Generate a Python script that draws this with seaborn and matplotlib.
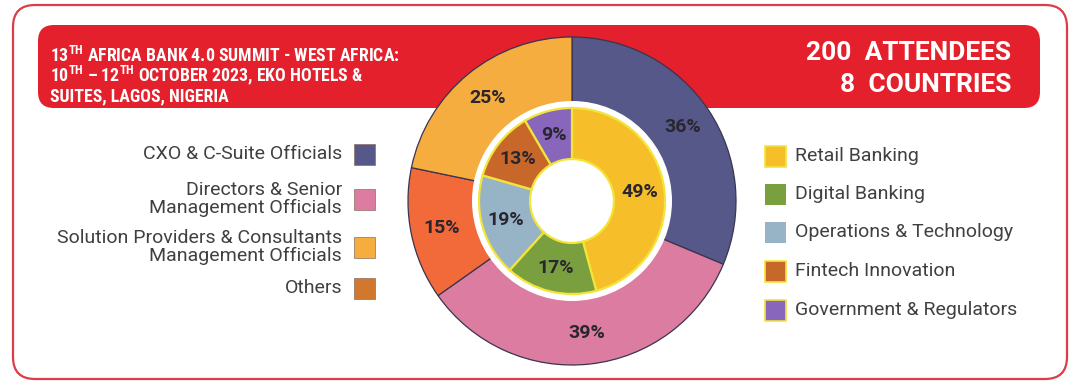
import matplotlib
matplotlib.use("Agg")
import matplotlib.pyplot as plt
import seaborn as sns
from matplotlib.patches import FancyBboxPatch, Rectangle, Circle
from matplotlib import font_manager

# ---------------- data ----------------
outer_labels = ["CXO & C-Suite Officials",
                "Directors & Senior\nManagement Officials",
                "Others",
                "Solution Providers & Consultants\nManagement Officials"]
outer_values = [36, 39, 15, 25]
outer_colors = ["#555888", "#dc7ca0", "#f26a3a", "#f6ad40"]

legend_left_labels = ["CXO & C-Suite Officials",
                      "Directors & Senior\nManagement Officials",
                      "Solution Providers & Consultants\nManagement Officials",
                      "Others"]
legend_left_colors = ["#555888", "#dc7ca0", "#f6ad40", "#d2782e"]

inner_labels = ["Retail Banking", "Digital Banking", "Operations & Technology",
                "Fintech Innovation", "Government & Regulators"]
inner_values = [49, 17, 19, 13, 9]
inner_colors = ["#f6bf2a", "#7a9f3f", "#97b3c6", "#c7672a", "#8866bb"]

title_lines = [r"13$^{\mathbf{TH}}$ AFRICA BANK 4.0 SUMMIT - WEST AFRICA:",
               r"10$^{\mathbf{TH}}$ – 12$^{\mathbf{TH}}$ OCTOBER 2023, EKO HOTELS &",
               "SUITES, LAGOS, NIGERIA"]
stats_lines = ["200  ATTENDEES", "8  COUNTRIES"]

# ---------------- style ----------------
sns.set_theme(style="white")
avail = {f.name for f in font_manager.fontManager.ttflist}
def pick(cands):
    for c in cands:
        if c in avail:
            return c
    return "DejaVu Sans"
head_font = pick(["Roboto Condensed", "Liberation Sans Narrow", "Roboto"])
body_font = pick(["Roboto", "Open Sans", "DejaVu Sans"])
plt.rcParams["font.family"] = [body_font, "DejaVu Sans"]
plt.rcParams["mathtext.fontset"] = "custom"
plt.rcParams["mathtext.bf"] = f"{head_font}:bold"
plt.rcParams["mathtext.rm"] = f"{head_font}:bold"

RED = "#e3202b"
TXT = "#404040"
fig = plt.figure(figsize=(10.8, 3.9), dpi=100)
ax = fig.add_axes([0, 0, 1, 1])

H = 390
def Y(y):  # image y (top-down) -> axes y (bottom-up)
    return H - y

# outer frame
ax.add_patch(FancyBboxPatch((13, Y(379)), 1054, 374,
                            boxstyle="round,pad=0,rounding_size=22",
                            fc="white", ec="#dd3d48", lw=1.6, zorder=0))
# banner
ax.add_patch(FancyBboxPatch((38, Y(108)), 1002, 83,
                            boxstyle="round,pad=0,rounding_size=16",
                            fc=RED, ec="none", zorder=1))

for txt, yb in zip(title_lines, [62, 81.5, 101]):
    ax.text(50, Y(yb), txt, color="white", fontsize=12.8, fontweight="bold",
            family=[head_font, "DejaVu Sans"], ha="left", va="baseline", zorder=2)
for txt, yb in zip(stats_lines, [60, 92]):
    ax.text(1011, Y(yb), txt, color="white", fontsize=19, fontweight="bold",
            family=[body_font, "DejaVu Sans"], ha="right", va="baseline", zorder=2)

# ---------------- pies ----------------
cx, cy = 572, Y(201)
R_out = 164
wedges, texts = ax.pie(outer_values, colors=outer_colors, startangle=90,
                       counterclock=False, center=(cx, cy), radius=R_out,
                       labels=[f"{v}%" for v in outer_values], labeldistance=0.81,
                       wedgeprops=dict(edgecolor="#3a3450", linewidth=0.9),
                       textprops=dict(ha="center", va="center", fontsize=14,
                                      fontweight="bold", color="#2a2630"),
                       frame=False)
for w in wedges:
    w.set_zorder(3)
for t in texts:
    t.set_zorder(6)
ax.add_patch(Circle((cx, cy), 100, fc="white", ec="none", zorder=4))

R_in = 93
w2, t2 = ax.pie(inner_values, colors=inner_colors, startangle=90,
                counterclock=False, center=(cx, cy), radius=R_in,
                labels=[f"{v}%" for v in inner_values], labeldistance=0.74,
                wedgeprops=dict(width=R_in - 42, edgecolor="#f3e43a", linewidth=1.6),
                textprops=dict(ha="center", va="center", fontsize=14,
                               fontweight="bold", color="#2a2630"),
                frame=False)
for w in w2:
    w.set_zorder(5)
for t in t2:
    t.set_zorder(6)

# ---------------- legends ----------------
left_rows = [154, 199, 247, 288]
for lab, col, yc in zip(legend_left_labels, legend_left_colors, left_rows):
    ax.add_patch(Rectangle((354, Y(yc) - 10.5), 21, 21, fc=col, ec="#8a7060",
                           lw=0.5, zorder=2))
    ax.text(342, Y(yc), lab, ha="right", va="center", multialignment="right",
            fontsize=14, color=TXT, linespacing=1.0, zorder=2)

right_rows = [156, 194, 232, 271, 310]
right_edges = ["#f3e43a", "none", "none", "#f3e43a", "#f3e43a"]
for lab, col, ec, yc in zip(inner_labels, inner_colors, right_edges, right_rows):
    ax.add_patch(Rectangle((765, Y(yc) - 10.5), 21, 21, fc=col, ec=ec,
                           lw=1.2, zorder=2))
    ax.text(795, Y(yc), lab, ha="left", va="center", fontsize=14,
            color=TXT, zorder=2)

ax.set_xlim(0, 1080)
ax.set_ylim(0, 390)
ax.set_aspect("equal")
ax.axis("off")
fig.savefig("out.png", dpi=100, facecolor="white")
